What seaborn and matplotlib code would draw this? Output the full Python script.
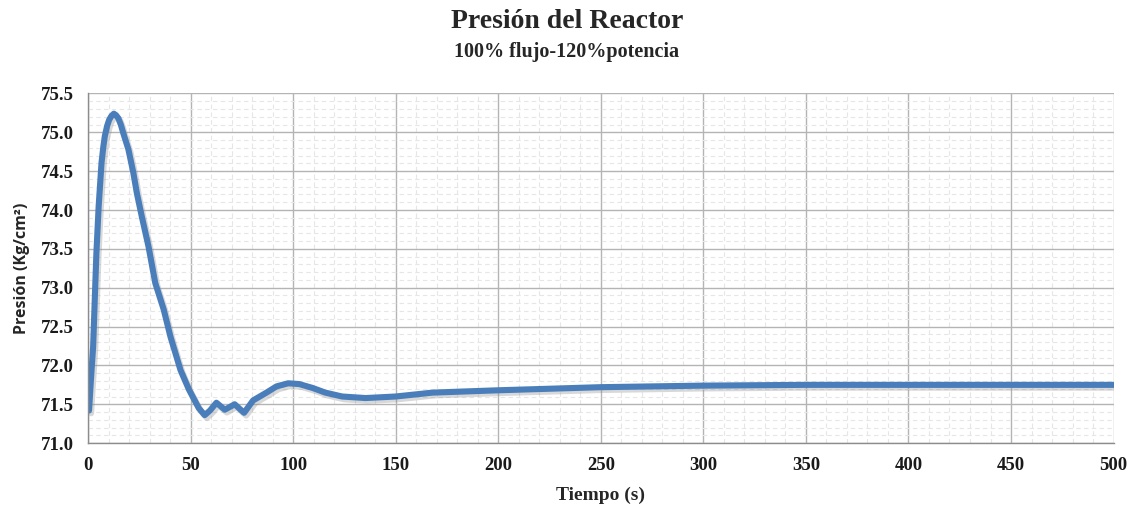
import numpy as np
import pandas as pd
import matplotlib
matplotlib.use("Agg")
import matplotlib.pyplot as plt
import matplotlib.patheffects as pe
from matplotlib.ticker import MultipleLocator
import seaborn as sns

# Datos: tiempo (s) y presion (Kg/cm2)
tiempo = [0.5, 1.5, 2.5, 3.3, 4.1, 5.2, 6.6, 7.5, 8.2, 9.3, 10.3, 11.4, 12.6,
          13.7, 14.8, 16.0, 17.2, 19.7, 22.1, 23.8, 26.2, 29.5, 32.8, 36.9,
          40.2, 45.1, 49.2, 54.0, 56.9, 59.5, 62.6, 66.7, 71.5, 76.1, 80.5,
          87.0, 91.9, 97.6, 103.0, 109.5, 115.7, 123.9, 135.3, 150.0, 168.0,
          200.0, 225.0, 250.0, 300.0, 350.0, 400.0, 450.0, 500.0]
presion = [71.42, 71.85, 72.24, 72.85, 73.45, 74.05, 74.61, 74.82, 74.95,
           75.08, 75.16, 75.21, 75.24, 75.22, 75.18, 75.10, 74.99, 74.78,
           74.48, 74.22, 73.92, 73.53, 73.06, 72.72, 72.37, 71.94, 71.69,
           71.45, 71.36, 71.42, 71.52, 71.43, 71.50, 71.39, 71.55, 71.65,
           71.73, 71.77, 71.76, 71.71, 71.65, 71.60, 71.58, 71.60, 71.65,
           71.68, 71.70, 71.72, 71.74, 71.75, 71.75, 71.75, 71.75]

titulo = "Presión del Reactor"
subtitulo = "100% flujo-120%potencia"

df = pd.DataFrame({"Tiempo": tiempo, "Presion": presion})

sns.set_style("white")
plt.rcParams['font.family'] = ['Liberation Serif', 'DejaVu Serif']

fig = plt.figure(figsize=(11.34, 5.07), dpi=100)
ax = fig.add_axes([0.0776, 0.126, 0.9044, 0.6896])

ax.xaxis.set_major_locator(MultipleLocator(50))
ax.xaxis.set_minor_locator(MultipleLocator(10))
ax.yaxis.set_major_locator(MultipleLocator(0.5))
ax.yaxis.set_minor_locator(MultipleLocator(0.1))
ax.grid(which='minor', color='#e6e6e6', linestyle=(0, (4, 3)), linewidth=0.8)
ax.grid(which='major', color='#b4b4b4', linestyle='-', linewidth=1.0)
ax.set_axisbelow(True)

sns.lineplot(data=df, x="Tiempo", y="Presion", ax=ax, color='#4a7ebb',
             linewidth=4.4, solid_capstyle='round', solid_joinstyle='round',
             path_effects=[pe.SimpleLineShadow(offset=(1.5, -2), shadow_color='#909090', alpha=0.35),
                           pe.Normal()])

ax.set_xlim(0, 500)
ax.set_ylim(71.0, 75.5)
ax.yaxis.set_major_formatter(matplotlib.ticker.FormatStrFormatter('%.1f'))

for s in ['top', 'right']:
    ax.spines[s].set_visible(False)
for s in ['left', 'bottom']:
    ax.spines[s].set_color('#8c8c8c')
    ax.spines[s].set_linewidth(1.0)

ax.tick_params(axis='both', which='both', length=0, pad=10)
for lab in ax.get_xticklabels() + ax.get_yticklabels():
    lab.set_fontsize(13.5)
    lab.set_fontweight('bold')
    lab.set_color('#1a1a1a')

ax.set_xlabel("Tiempo (s)", fontsize=14, fontweight='bold', labelpad=9)
ax.set_ylabel("Presión (Kg/cm²)", fontsize=11.5, fontweight='bold',
              family=['Open Sans', 'DejaVu Sans'], labelpad=8)

fig.text(0.5, 0.958, titulo, ha='center', va='center', fontsize=20, fontweight='bold')
fig.text(0.5, 0.897, subtitulo, ha='center', va='center', fontsize=14.5, fontweight='bold')

fig.savefig("out.png", dpi=100)
